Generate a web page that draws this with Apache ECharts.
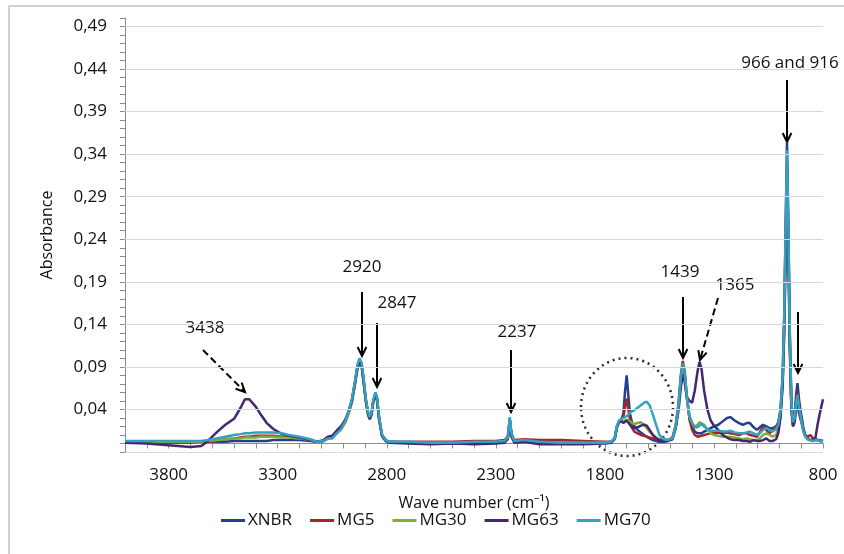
<!DOCTYPE html>
<html>
<head>
<meta charset="utf-8">
<script src="https://cdn.jsdelivr.net/npm/echarts@6/dist/echarts.min.js"></script>
<style>
    html, body { margin: 0; padding: 0; background: #fff; }
    #main { width: 844px; height: 554px; }
</style>
</head>
<body>
<div id="main"></div>
<script>
// wave numbers (cm-1), shared by all spectra
var waves = [
    4000, 3900, 3800, 3700, 3650, 3620, 3580, 3540, 3500, 3470,
    3450, 3430, 3400, 3380, 3350, 3320, 3280, 3250, 3200, 3150,
    3120, 3090, 3070, 3050, 3030, 3010, 2990, 2975, 2960, 2945,
    2935, 2925, 2915, 2905, 2895, 2885, 2878, 2870, 2862, 2852,
    2845, 2835, 2822, 2805, 2790, 2700, 2600, 2500, 2400, 2300,
    2260, 2245, 2236, 2228, 2215, 2170, 2100, 2000, 1900, 1800,
    1770, 1755, 1745, 1735, 1725, 1715, 1708, 1700, 1692, 1685,
    1675, 1665, 1650, 1635, 1620, 1608, 1595, 1580, 1565, 1550,
    1530, 1510, 1490, 1475, 1462, 1452, 1443, 1434, 1425, 1412,
    1400, 1388, 1375, 1366, 1357, 1345, 1330, 1315, 1300, 1280,
    1260, 1240, 1225, 1205, 1185, 1167, 1150, 1135, 1118, 1103,
    1090, 1075, 1060, 1045, 1030, 1015, 1005, 995, 985, 978,
    971, 965, 959, 952, 945, 938, 930, 923, 917, 910,
    904, 897, 890, 882, 870, 858, 845, 835, 825, 815,
    808, 800
];

var xnbr = [
    .002, .002, .002, .002, .002, .002, .002, .002, .003, .003,
    .003, .003, .003, .003, .003, .004, .004, .004, .004, .003,
    .002, .003, .006, .007, .013, .018, .026, .037, .050, .073,
    .090, .098, .093, .072, .050, .035, .030, .035, .050, .059,
    .054, .030, .010, .004, .002, .001, .001, .001, .001, .002,
    .002, .006, .028, .010, .002, .003, .001, .001, .001, .001,
    .002, .006, .020, .026, .028, .035, .060, .080, .055, .035,
    .024, .020, .016, .013, .010, .008, .006, .004, .003, .002,
    .002, .003, .006, .020, .045, .075, .092, .080, .055, .030,
    .020, .014, .012, .010, .012, .014, .016, .018, .020, .022,
    .026, .030, .031, .027, .024, .022, .024, .024, .019, .016,
    .019, .022, .020, .018, .018, .020, .025, .040, .080, .150,
    .260, .354, .260, .130, .050, .026, .035, .058, .071, .052,
    .040, .030, .018, .010, .005, .004, .004, .004, .004, .003,
    .003, .003
];

var mg5 = [
    .001, .001, .001, .001, .002, .002, .003, .005, .006, .007,
    .008, .008, .009, .009, .009, .009, .008, .008, .006, .004,
    .002, .003, .006, .007, .012, .017, .025, .036, .049, .072,
    .089, .097, .092, .071, .049, .034, .029, .034, .049, .058,
    .053, .029, .010, .004, .002, .002, .002, .002, .003, .003,
    .004, .008, .029, .011, .004, .005, .004, .004, .003, .002,
    .002, .006, .020, .026, .028, .032, .042, .053, .040, .028,
    .018, .014, .012, .010, .009, .008, .007, .006, .005, .004,
    .004, .004, .007, .022, .048, .080, .097, .085, .058, .028,
    .016, .010, .008, .007, .009, .010, .011, .012, .012, .013,
    .012, .013, .012, .011, .010, .012, .012, .010, .009, .008,
    .013, .020, .016, .012, .016, .020, .022, .036, .074, .140,
    .245, .332, .245, .120, .045, .024, .032, .050, .060, .046,
    .034, .026, .016, .010, .008, .010, .006, .005, .004, .004,
    .003, .003
];

var mg30 = [
    .002, .002, .002, .002, .002, .003, .004, .005, .006, .006,
    .007, .007, .007, .008, .008, .008, .007, .007, .006, .004,
    .002, .003, .006, .007, .012, .017, .025, .035, .048, .070,
    .087, .095, .090, .069, .047, .033, .028, .033, .048, .056,
    .051, .028, .009, .003, .002, .001, .001, .001, .001, .002,
    .002, .006, .027, .009, .002, .003, .001, .001, .001, .001,
    .002, .006, .020, .026, .027, .026, .027, .028, .027, .026,
    .024, .023, .024, .025, .022, .018, .014, .010, .007, .005,
    .004, .004, .006, .020, .044, .074, .090, .078, .055, .032,
    .024, .020, .022, .025, .027, .022, .016, .012, .010, .009,
    .008, .008, .008, .007, .006, .005, .006, .005, .004, .004,
    .006, .010, .012, .010, .008, .010, .018, .032, .070, .132,
    .235, .318, .235, .115, .042, .022, .028, .045, .054, .040,
    .030, .022, .014, .008, .005, .004, .003, .004, .004, .003,
    .002, .002
];

var mg63 = [
    .001, .000, -.002, -.004, -.003, .003, .013, .022, .029, .042,
    .052, .052, .043, .035, .024, .017, .011, .009, .007, .004,
    .002, .004, .008, .009, .015, .020, .028, .038, .050, .072,
    .088, .096, .091, .070, .049, .034, .029, .034, .049, .057,
    .052, .029, .009, .003, .001, .000, -.001, .000, -.001, .000,
    .001, .005, .026, .008, .001, .002, -.001, -.001, -.001, .000,
    .001, .005, .018, .025, .026, .024, .025, .027, .025, .022,
    .019, .018, .019, .021, .022, .021, .016, .010, .006, .004,
    .003, .003, .005, .018, .040, .065, .082, .072, .055, .050,
    .048, .062, .085, .096, .088, .062, .040, .027, .021, .016,
    .010, .007, .005, .004, .004, .003, .003, .002, .004, .003,
    .003, .004, .006, .003, .003, .005, .012, .030, .068, .128,
    .225, .305, .225, .110, .040, .020, .025, .040, .050, .036,
    .030, .025, .016, .010, .006, .004, .004, .006, .022, .035,
    .043, .052
];

var mg70 = [
    .003, .003, .003, .003, .003, .004, .006, .008, .010, .011,
    .012, .012, .013, .013, .013, .013, .012, .010, .008, .005,
    .002, .003, .006, .006, .012, .017, .026, .038, .052, .075,
    .092, .100, .095, .074, .051, .036, .031, .036, .051, .060,
    .055, .031, .011, .004, .002, .002, .001, .001, .002, .002,
    .003, .007, .031, .011, .003, .004, .002, .001, .001, .001,
    .002, .006, .020, .027, .029, .030, .031, .032, .033, .036,
    .038, .039, .042, .045, .048, .049, .045, .034, .022, .010,
    .005, .004, .006, .020, .045, .076, .094, .082, .057, .032,
    .024, .019, .019, .020, .023, .020, .017, .015, .015, .015,
    .014, .014, .015, .013, .012, .012, .013, .014, .012, .010,
    .012, .016, .018, .016, .014, .017, .022, .038, .078, .145,
    .255, .345, .255, .125, .048, .025, .030, .048, .057, .042,
    .034, .024, .015, .009, .005, .004, .003, .004, .004, .003,
    .002, .002
];

var seriesNames = ['XNBR', 'MG5', 'MG30', 'MG63', 'MG70'];
var seriesValues = [xnbr, mg5, mg30, mg63, mg70];
var seriesColors = ['#233f8e', '#a3262a', '#7fae38', '#45276f', '#33a1c4'];

var xLabels = [800, 1300, 1800, 2300, 2800, 3300, 3800];
var yLabels = [0.04, 0.09, 0.14, 0.19, 0.24, 0.29, 0.34, 0.39, 0.44, 0.49];
var gridValues = [-0.01].concat(yLabels);

var FONT = '"Open Sans", sans-serif';
var INK = '#111';

function arrow(x1, y1, x2, y2, dashed) {
    var a = Math.atan2(y2 - y1, x2 - x1);
    var h = 10, s = 0.45;
    var st = { stroke: '#000', lineWidth: 2, lineDash: dashed ? [7, 4] : null };
    return [
        { type: 'line', shape: { x1: x1, y1: y1, x2: x2, y2: y2 }, style: st },
        {
            type: 'polyline',
            shape: { points: [
                [x2 - h * Math.cos(a - s), y2 - h * Math.sin(a - s)],
                [x2, y2],
                [x2 - h * Math.cos(a + s), y2 - h * Math.sin(a + s)]
            ] },
            style: { stroke: '#000', lineWidth: 2, fill: null }
        }
    ];
}

function label(text, x, y) {
    return {
        type: 'text', x: x, y: y,
        style: { text: text, fill: INK, fontSize: 17, fontFamily: FONT, align: 'center', verticalAlign: 'middle' }
    };
}

var notes = [].concat(
    arrow(203, 350, 245, 392, true),
    arrow(362, 292, 362, 356),
    arrow(377, 323, 377, 387),
    arrow(511, 350, 511, 412),
    arrow(683, 297, 683, 358),
    arrow(718, 298, 700, 360, true),
    arrow(798, 312, 798, 373),
    arrow(787, 80, 787, 142),
    [
        label('3438', 205, 328),
        label('2920', 362, 267),
        label('2847', 397, 303),
        label('2237', 517, 332),
        label('1439', 680, 272),
        label('1365', 735, 285),
        label('966 and 916', 790, 63),
        {
            type: 'ellipse', shape: { cx: 627, cy: 407, rx: 46, ry: 49 },
            style: { fill: null, stroke: '#1f2d4f', lineWidth: 2.5, lineDash: [2, 4] }
        },
        {
            type: 'rect', shape: { x: 9, y: 6, width: 900, height: 600 },
            style: { fill: null, stroke: '#c4c4c4', lineWidth: 1.5 }, z: -1
        }
    ]
);

var series = [{
    name: 'grid',
    type: 'line',
    data: [],
    z: 1,
    silent: true,
    markLine: {
        silent: true,
        symbol: 'none',
        label: { show: false },
        lineStyle: { color: '#d9d9d9', width: 1, type: 'solid' },
        data: gridValues.map(function (v) { return { yAxis: v }; })
    }
}];

seriesNames.forEach(function (name, k) {
    series.push({
        name: name,
        type: 'line',
        z: 2,
        showSymbol: false,
        color: seriesColors[k],
        lineStyle: { width: 2.5, color: seriesColors[k] },
        data: waves.map(function (w, i) { return [w, seriesValues[k][i]]; })
    });
});

var chart = echarts.init(document.getElementById('main'));

chart.setOption({
    animation: false,
    backgroundColor: '#fff',
    textStyle: { fontFamily: FONT },
    grid: { left: 125, right: 21, top: 18, bottom: 102 },
    legend: {
        data: seriesNames,
        left: 216,
        top: 507,
        icon: 'rect',
        itemWidth: 24,
        itemHeight: 3,
        itemGap: 18,
        textStyle: { fontSize: 17, color: INK, fontFamily: FONT, padding: [0, 0, 0, -2] }
    },
    xAxis: {
        type: 'value',
        inverse: true,
        min: 800,
        max: 4000,
        interval: 100,
        name: 'Wave number (cm\u207B\u00B9)',
        nameLocation: 'middle',
        nameGap: 43,
        nameTextStyle: { fontSize: 16, color: INK, fontFamily: FONT },
        axisLine: { onZero: true, lineStyle: { color: '#8c8c8c', width: 1 } },
        axisTick: { length: 5, lineStyle: { color: '#8c8c8c' } },
        splitLine: { show: false },
        axisLabel: {
            margin: 15,
            fontSize: 17,
            color: INK,
            fontFamily: FONT,
            formatter: function (v) {
                return xLabels.indexOf(Math.round(v)) >= 0 ? String(Math.round(v)) : '';
            }
        }
    },
    yAxis: {
        type: 'value',
        min: -0.01,
        max: 0.5,
        interval: 0.01,
        name: 'Absorbance',
        nameLocation: 'middle',
        nameGap: 70,
        nameTextStyle: { fontSize: 16, color: INK, fontFamily: FONT },
        axisLine: { show: true, lineStyle: { color: '#8c8c8c', width: 1 } },
        axisTick: { show: true, length: 5, lineStyle: { color: '#8c8c8c' } },
        splitLine: { show: false },
        axisLabel: {
            margin: 18,
            fontSize: 17,
            color: INK,
            fontFamily: FONT,
            formatter: function (v) {
                for (var i = 0; i < yLabels.length; i++) {
                    if (Math.abs(yLabels[i] - v) < 1e-6) {
                        return yLabels[i].toFixed(2).replace('.', ',');
                    }
                }
                return '';
            }
        }
    },
    graphic: notes,
    series: series
});
</script>
</body>
</html>
